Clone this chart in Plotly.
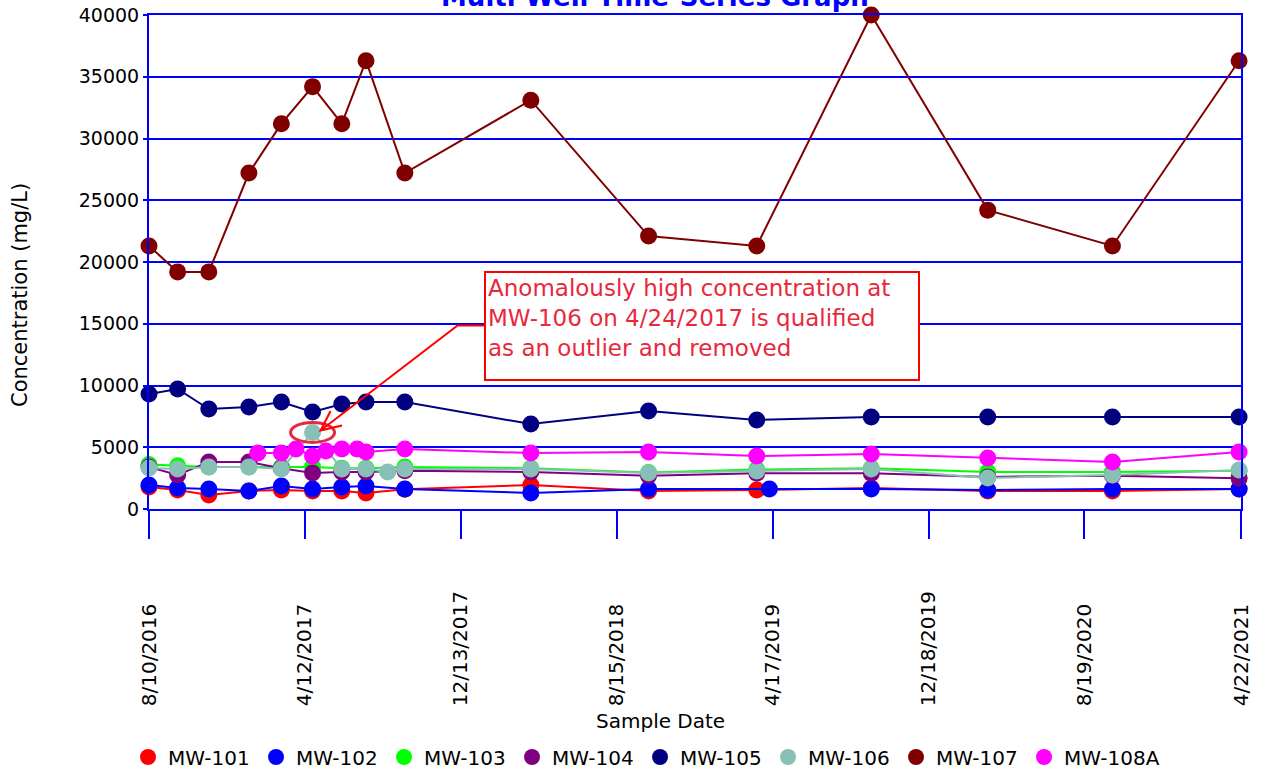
import plotly.graph_objects as go

# ---------------- data ----------------
std_dates = ["2016-08-10", "2016-09-24", "2016-11-12", "2017-01-14", "2017-03-06",
             "2017-04-24", "2017-06-09", "2017-07-17", "2017-09-16", "2018-04-02",
             "2018-10-04", "2019-03-23", "2019-09-19", "2020-03-20", "2020-10-02",
             "2021-04-19"]

mw101_dates = std_dates
mw101_vals = [1780, 1540, 1130, 1460, 1540, 1460, 1460, 1300, 1600, 1940,
              1460, 1540, 1700, 1460, 1460, 1620]

mw102_dates = ["2016-08-10", "2016-09-24", "2016-11-12", "2017-01-14", "2017-03-06",
               "2017-04-24", "2017-06-09", "2017-07-17", "2017-09-16", "2018-04-02",
               "2018-10-04", "2019-04-12", "2019-09-19", "2020-03-20", "2020-10-02",
               "2021-04-19"]
mw102_vals = [1950, 1700, 1620, 1460, 1860, 1620, 1780, 1860, 1620, 1300,
              1620, 1620, 1620, 1540, 1620, 1620]

mw103_dates = std_dates
mw103_vals = [3600, 3500, 3400, 3400, 3400, 3400, 3300, 3300, 3400, 3300,
              2950, 3200, 3300, 3000, 3000, 3100]

mw104_dates = std_dates
mw104_vals = [3400, 2750, 3810, 3810, 3300, 2920, 3000, 3000, 3100, 3000,
              2700, 2900, 2900, 2600, 2700, 2500]

mw105_dates = std_dates
mw105_vals = [9310, 9720, 8100, 8260, 8660, 7850, 8500, 8660, 8660, 6880,
              7940, 7210, 7450, 7450, 7450, 7450]

mw106_dates = ["2016-08-10", "2016-09-24", "2016-11-12", "2017-01-14", "2017-03-06",
               "2017-04-24", "2017-06-09", "2017-07-17", "2017-08-20", "2017-09-16",
               "2018-04-02", "2018-10-04", "2019-03-23", "2019-09-19", "2020-03-20",
               "2020-10-02", "2021-04-19"]
mw106_vals = [3320, 3240, 3400, 3400, 3240, 6200, 3240, 3240, 3000, 3240,
              3240, 2920, 3080, 3240, 2510, 2750, 3160]

mw107_dates = std_dates
mw107_vals = [21300, 19200, 19200, 27200, 31200, 34200, 31200, 36300, 27200, 33100,
              22100, 21300, 40000, 24200, 21300, 36300]

mw108a_dates = ["2017-01-28", "2017-03-06", "2017-03-29", "2017-04-24", "2017-05-15",
                "2017-06-09", "2017-07-03", "2017-07-17", "2017-09-16", "2018-04-02",
                "2018-10-04", "2019-03-23", "2019-09-19", "2020-03-20", "2020-10-02",
                "2021-04-19"]
mw108a_vals = [4530, 4530, 4860, 4290, 4700, 4860, 4860, 4620, 4860, 4530,
               4620, 4290, 4450, 4130, 3810, 4620]

well_names = ["MW-101", "MW-102", "MW-103", "MW-104", "MW-105", "MW-106", "MW-107", "MW-108A"]
well_dates = [mw101_dates, mw102_dates, mw103_dates, mw104_dates, mw105_dates,
              mw106_dates, mw107_dates, mw108a_dates]
well_vals = [mw101_vals, mw102_vals, mw103_vals, mw104_vals, mw105_vals,
             mw106_vals, mw107_vals, mw108a_vals]
well_colors = ["#FF0000", "#0000FF", "#00FF00", "#800080", "#000080",
               "#88BFB6", "#800000", "#FF00FF"]

tick_dates = ["2016-08-10", "2017-04-12", "2017-12-13", "2018-08-15",
              "2019-04-17", "2019-12-18", "2020-08-19", "2021-04-22"]
tick_labels = ["8/10/2016", "4/12/2017", "12/13/2017", "8/15/2018",
               "4/17/2019", "12/18/2019", "8/19/2020", "4/22/2021"]

outlier_date = "2017-04-24"
outlier_val = 6200

FONT = "DejaVu Sans"
BLUE = "#0000FF"
CRIMSON = "#E8283C"

fig = go.Figure()
for name, xs, ys, col in zip(well_names, well_dates, well_vals, well_colors):
    fig.add_trace(go.Scatter(x=xs, y=ys, mode="lines", line=dict(color=col, width=2),
                             showlegend=False, hoverinfo="skip", cliponaxis=False))
    fig.add_trace(go.Scatter(x=xs, y=ys, mode="markers", name=name,
                             marker=dict(color=col, size=17, line=dict(width=0)),
                             legendwidth=(120 if name == "MW-108A" else None),
                             cliponaxis=False))

# pad shorter labels so rotated labels are bottom aligned
maxlen = max(len(t) for t in tick_labels)
padded = [t + "\u00a0\u00a0" * (maxlen - len(t)) for t in tick_labels]

fig.update_layout(
    width=1263, height=774,
    template="none",
    paper_bgcolor="white", plot_bgcolor="white",
    font=dict(family=FONT, size=19, color="black"),
    margin=dict(l=149, r=22, t=15, b=265, autoexpand=False),
    showlegend=True,
    legend=dict(orientation="h", x=-0.0192, xanchor="left", y=-0.502, yanchor="middle",
                font=dict(size=20, color="black"), entrywidth=83, entrywidthmode="pixels",
                bgcolor="rgba(0,0,0,0)", borderwidth=0),
    xaxis=dict(type="date", range=["2016-08-10", "2021-04-22"],
               tickmode="array", tickvals=tick_dates, ticktext=padded, tickangle=-90,
               ticks="outside", ticklen=28, tickwidth=2, tickcolor=BLUE,
               showline=True, linecolor=BLUE, linewidth=2, mirror=True,
               showgrid=False, zeroline=False, automargin=False,
               tickfont=dict(size=20, color="black"), ticklabelstandoff=44),
    yaxis=dict(range=[0, 40000], dtick=5000, tick0=0, tickformat="d",
               ticks="outside", ticklen=4, tickwidth=2, tickcolor=BLUE,
               showline=True, linecolor=BLUE, linewidth=2, mirror=True,
               showgrid=True, gridcolor=BLUE, gridwidth=2, zeroline=False,
               automargin=False, tickfont=dict(size=19, color="black")),
)

# title (partially cut by the top edge as in the reference)
fig.add_annotation(text="<b>Multi-Well Time-Series Graph</b>", xref="paper", yref="paper",
                   x=0.4634, y=1, xanchor="center", yanchor="middle", yshift=18,
                   showarrow=False, font=dict(family=FONT, size=26, color=BLUE))
# axis titles
fig.add_annotation(text="Concentration (mg/L)", xref="paper", yref="paper",
                   x=-0.1181, y=0.4332, xanchor="center", yanchor="middle", textangle=-90,
                   showarrow=False, font=dict(family=FONT, size=21, color="black"))
fig.add_annotation(text="Sample Date", xref="paper", yref="paper",
                   x=0.468, y=-0.4291, xanchor="center", yanchor="middle",
                   showarrow=False, font=dict(family=FONT, size=20, color="black"))

# callout box
fig.add_annotation(text="Anomalously high concentration at<br>MW-106 on 4/24/2017 is qualified<br>as an outlier and removed",
                   xref="paper", yref="paper", x=0.3068, y=0.4818, xanchor="left", yanchor="top",
                   align="left", valign="top", width=428, height=102, showarrow=False,
                   bgcolor="white", bordercolor="#FF0000", borderwidth=2, borderpad=2,
                   font=dict(family=FONT, size=23, color=CRIMSON))

# ellipse around the outlier
fig.add_shape(type="circle", xref="x", yref="y", xsizemode="pixel", ysizemode="pixel",
              xanchor=outlier_date, yanchor=outlier_val, x0=-22, x1=22, y0=-10, y1=10,
              line=dict(color=CRIMSON, width=3), fillcolor="rgba(0,0,0,0)", layer="above")
# connector arrow from the callout to the ellipse
fig.add_shape(type="path", xref="x", yref="y", xsizemode="pixel", ysizemode="pixel",
              xanchor=outlier_date, yanchor=outlier_val,
              path="M 174 107 L 145 107 L 8 2 M 29.5 7 L 8 2 L 18 21.5",
              line=dict(color="#FF0000", width=2), layer="above")

fig.write_html("out.html")
